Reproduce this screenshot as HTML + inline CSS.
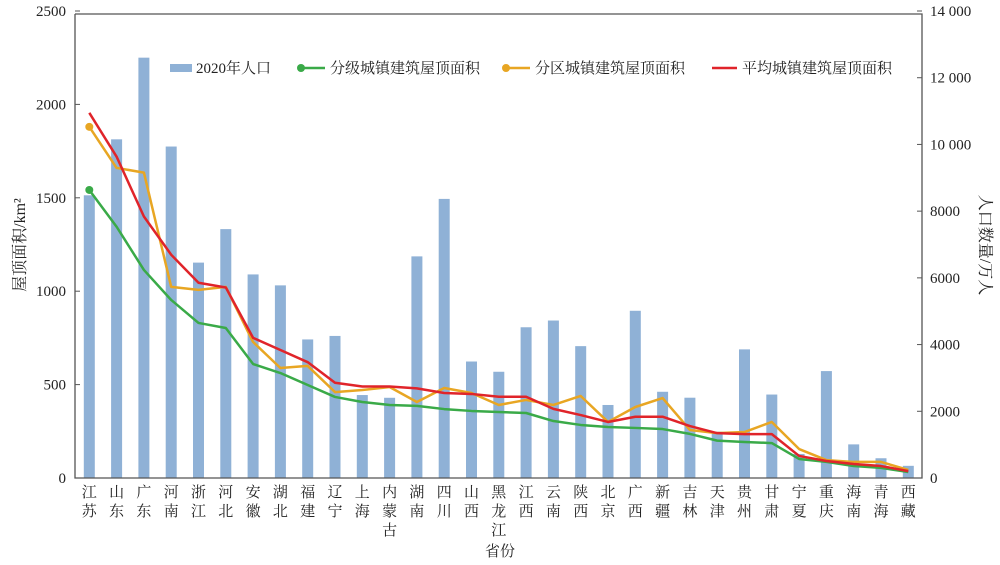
<!DOCTYPE html>
<html><head><meta charset="utf-8"><style>
body{margin:0;background:#fff;}
svg{display:block;font-family:"Liberation Serif","Noto Serif CJK SC",serif;}
</style></head><body>
<svg id="chart" width="1000" height="565" viewBox="0 0 1000 565"></svg>
<script>
const categories=["江苏","山东","广东","河南","浙江","河北","安徽","湖北","福建","辽宁","上海","内蒙古","湖南","四川","山西","黑龙江","江西","云南","陕西","北京","广西","新疆","吉林","天津","贵州","甘肃","宁夏","重庆","海南","青海","西藏"];
const population=[8475,10153,12601,9937,6457,7461,6103,5775,4154,4259,2487,2405,6644,8367,3492,3185,4519,4721,3953,2189,5013,2585,2407,1387,3856,2502,720,3205,1008,592,365];
const gradedArea=[1542,1345,1114,953,830,803,610,562,498,434,407,391,386,369,359,353,348,305,284,273,268,262,236,200,193,187,102,86,64,54,32];
const zonedArea=[1880,1660,1635,1023,1007,1023,728,589,600,460,471,487,407,482,455,391,418,391,439,300,380,428,257,240,246,300,155,96,86,86,43];
const avgArea=[1955,1720,1400,1195,1045,1020,750,685,620,510,490,490,480,455,450,435,435,370,337,300,328,328,278,240,235,235,118,91,75,64,37];
const leftTicks=[0,500,1000,1500,2000,2500];
const rightTicks=[0,2000,4000,6000,8000,10000,12000,14000];
const rightTickLabels=["0","2000","4000","6000","8000","10 000","12 000","14 000"];

const svg=document.getElementById('chart');
const NS="http://www.w3.org/2000/svg";
const X0=75,X1=922,Y0=478,YT=11;
const xs=i=>89.3+i*27.3;
const yL=v=>Y0-(v/2500)*(Y0-YT);
const yR=v=>Y0-(v/14000)*(Y0-YT);
function mk(tag,attrs,parent){const e=document.createElementNS(NS,tag);for(const k in attrs)e.setAttribute(k,attrs[k]);(parent||svg).appendChild(e);return e;}

// bars
categories.forEach((c,i)=>{
  const b=mk('rect',{x:xs(i)-5.5,y:yR(population[i]),width:11,height:Y0-yR(population[i]),fill:'#8fb1d6'});
  
  
});
// frame
const fr=mk('path',{d:`M${X0},14 L${X0},${Y0} L${X1},${Y0} L${X1},14 L${X0},14`,fill:'none',stroke:'#555','stroke-width':1.3});


leftTicks.forEach(v=>{
  mk('line',{x1:X0,x2:X0+5,y1:yL(v),y2:yL(v),stroke:'#555'});
  const t=mk('text',{x:66,y:yL(v)+5,'text-anchor':'end','font-size':15,fill:'#222'});
  t.textContent=v;
  
  
});
rightTicks.forEach((v,i)=>{
  mk('line',{x1:X1-5,x2:X1,y1:yR(v),y2:yR(v),stroke:'#555'});
  const t=mk('text',{x:930,y:yR(v)+5,'text-anchor':'start','font-size':15,fill:'#222'});
  t.textContent=rightTickLabels[i];
  
  
});
// lines
function series(vals,color,name,marker){
  const d=vals.map((v,i)=>(i?'L':'M')+xs(i)+','+yL(v)).join(' ');
  const p=mk('path',{d,fill:'none',stroke:color,'stroke-width':2.5,'stroke-linejoin':'round'});
  
  
  if(marker){const c=mk('circle',{cx:xs(0),cy:yL(vals[0]),r:4,fill:color});
    
    }
}
series(gradedArea,'#3aaa48','graded-area-line',true);
series(zonedArea,'#e8a623','zoned-area-line',true);
series(avgArea,'#e0242a','average-area-line',false);
// x labels
categories.forEach((c,i)=>{
  [...c].forEach((ch,j)=>{
    const t=mk('text',{x:xs(i),y:497+j*19,'text-anchor':'middle','font-size':15,fill:'#222'});
    t.textContent=ch;
    
    
  });
});
</script>
<svg style="position:absolute;left:0;top:0" width="1000" height="565">
<g font-family="Liberation Serif, Noto Serif CJK SC, serif" font-size="15" fill="#222">
<text x="500" y="556" text-anchor="middle">省份</text>
<text transform="translate(25,245) rotate(-90)" text-anchor="middle" font-size="16">屋顶面积/km²</text>
<text transform="translate(980,245) rotate(90)" text-anchor="middle" font-size="16">人口数量/万人</text>
<g>
<rect x="170" y="64" width="22" height="8" fill="#8fb1d6"/>
<text x="196" y="73">2020年人口</text>
<line x1="301" y1="68" x2="325" y2="68" stroke="#3aaa48" stroke-width="2.5"/><circle cx="301" cy="68" r="4" fill="#3aaa48"/>
<text x="330" y="73">分级城镇建筑屋顶面积</text>
<line x1="506" y1="68" x2="530" y2="68" stroke="#e8a623" stroke-width="2.5"/><circle cx="506" cy="68" r="4" fill="#e8a623"/>
<text x="535" y="73">分区城镇建筑屋顶面积</text>
<line x1="712" y1="68" x2="737" y2="68" stroke="#e0242a" stroke-width="2.5"/>
<text x="742" y="73">平均城镇建筑屋顶面积</text>
</g></g></svg>
<style>body{position:relative;}</style>
</body></html>
